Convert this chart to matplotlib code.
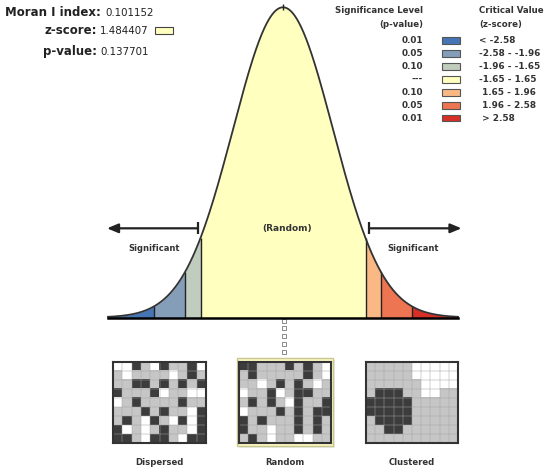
import numpy as np
import matplotlib.pyplot as plt
from matplotlib.patches import Rectangle
from matplotlib.colors import ListedColormap

# ===== report values =====
MORAN_I = 0.101152
Z_SCORE = 1.484407
P_VALUE = 0.137701

crit_z = [-2.58, -1.96, -1.65, 1.65, 1.96, 2.58]
p_levels = ['0.01', '0.05', '0.10', '---', '0.10', '0.05', '0.01']
z_ranges = ['< -2.58', '-2.58 - -1.96', '-1.96 - -1.65', '-1.65 - 1.65',
            ' 1.65 - 1.96', ' 1.96 - 2.58', ' > 2.58']
band_colors = ['#4575b5', '#849eba', '#c0ccbe', '#ffffbf', '#fab984', '#ed7551', '#d62f27']
Z_EXTENT = 3.5
map_labels = ['Dispersed', 'Random', 'Clustered']

# 0 = white, 1 = grey, 2 = dark
dispersed = [
    [0, 0, 2, 1, 0, 2, 1, 1, 2, 0],
    [1, 0, 1, 1, 1, 1, 0, 1, 2, 1],
    [1, 1, 2, 2, 1, 2, 1, 2, 1, 2],
    [2, 1, 1, 1, 2, 0, 1, 1, 0, 0],
    [0, 1, 2, 1, 1, 1, 1, 2, 1, 1],
    [1, 1, 1, 2, 1, 2, 1, 1, 0, 2],
    [1, 2, 1, 0, 2, 1, 0, 2, 0, 2],
    [2, 0, 1, 0, 1, 2, 1, 1, 0, 2],
    [2, 2, 1, 0, 2, 2, 1, 0, 2, 2],
]
random_map = [
    [2, 2, 1, 1, 1, 2, 1, 2, 1, 0],
    [1, 2, 1, 1, 1, 1, 1, 2, 1, 0],
    [1, 1, 0, 1, 2, 1, 2, 1, 0, 1],
    [0, 1, 1, 2, 0, 1, 2, 2, 1, 1],
    [1, 2, 1, 2, 1, 0, 2, 1, 1, 2],
    [0, 1, 1, 1, 2, 1, 2, 1, 2, 2],
    [2, 1, 2, 1, 1, 1, 2, 1, 2, 1],
    [2, 1, 1, 0, 1, 1, 2, 1, 2, 1],
    [1, 2, 1, 0, 1, 1, 0, 0, 1, 1],
]
clustered = [
    [1, 1, 1, 1, 1, 0, 0, 0, 0, 0],
    [1, 1, 1, 1, 1, 0, 0, 0, 0, 0],
    [1, 1, 1, 1, 1, 1, 0, 0, 0, 0],
    [1, 2, 2, 2, 1, 1, 0, 0, 1, 1],
    [2, 2, 2, 2, 2, 1, 1, 1, 1, 1],
    [2, 2, 2, 2, 2, 1, 1, 1, 1, 1],
    [1, 2, 2, 2, 2, 1, 1, 1, 1, 1],
    [1, 1, 2, 2, 1, 1, 1, 1, 1, 1],
    [1, 1, 1, 1, 1, 1, 1, 1, 1, 1],
]

W, H = 550, 473
fig = plt.figure(figsize=(5.5, 4.73), dpi=100)

def fx(x):
    return x / W

def fy(y):
    return 1 - y / H

# overlay in pixel coords for the legend / frames
ov = fig.add_axes([0, 0, 1, 1])
ov.set_xlim(0, W)
ov.set_ylim(H, 0)
ov.axis('off')

# ---- normal curve ----
z = np.linspace(-Z_EXTENT, Z_EXTENT, 1401)
pdf = np.exp(-z ** 2 / 2) / np.sqrt(2 * np.pi)
peak = pdf.max()

ax = fig.add_axes([fx(108), fy(317.5), 350 / W, 310.2 / H])
ax.set_xlim(-Z_EXTENT, Z_EXTENT)
ax.set_ylim(0, peak)
ax.axis('off')

edges = [-Z_EXTENT] + crit_z + [Z_EXTENT]
for i, col in enumerate(band_colors):
    m = (z >= edges[i]) & (z <= edges[i + 1])
    ax.fill_between(z[m], 0, pdf[m], color=col, lw=0)
for c in crit_z:
    ax.vlines(c, 0, np.exp(-c ** 2 / 2) / np.sqrt(2 * np.pi), color='#222222', lw=1)
ax.plot(z, pdf, color='#333333', lw=1.3, clip_on=False)
ax.plot([-Z_EXTENT, Z_EXTENT], [0, 0], color='black', lw=1.8, clip_on=False)
ax.plot([0], [peak], marker='|', ms=4, color='#222222', clip_on=False)

# significance arrows
ya = 0.1147
bar = 0.0077
ax.annotate('', xy=(-3.52, ya), xytext=(-1.70, ya),
            arrowprops=dict(arrowstyle='-|>,head_length=0.6,head_width=0.25',
                            color='#222222', lw=1.6,
                            mutation_scale=11, shrinkA=0, shrinkB=0),
            annotation_clip=False)
ax.annotate('', xy=(3.57, ya), xytext=(1.72, ya),
            arrowprops=dict(arrowstyle='-|>,head_length=0.6,head_width=0.25',
                            color='#222222', lw=1.6,
                            mutation_scale=11, shrinkA=0, shrinkB=0),
            annotation_clip=False)
ax.vlines([-1.70, 1.72], ya - bar, ya + bar, color='#222222', lw=1.6, clip_on=False)

fig.text(fx(287), fy(229), '(Random)', fontsize=6.5, fontweight='bold',
         color='#333333', ha='center', va='center')
fig.text(fx(154), fy(248), 'Significant', fontsize=6, fontweight='bold',
         color='#333333', ha='center', va='center')
fig.text(fx(413), fy(248), 'Significant', fontsize=6, fontweight='bold',
         color='#333333', ha='center', va='center')

# ---- stats block ----
fig.text(fx(5), fy(13), 'Moran I index:', fontsize=8.5, fontweight='bold',
         color='#222222', ha='left', va='center')
fig.text(fx(105), fy(13), f'{MORAN_I:.6f}', fontsize=7.4, color='#222222',
         ha='left', va='center')
fig.text(fx(97), fy(31), 'z-score:', fontsize=8.5, fontweight='bold',
         color='#222222', ha='right', va='center')
fig.text(fx(100), fy(31), f'{Z_SCORE:.6f}', fontsize=7.4, color='#222222',
         ha='left', va='center')
fig.text(fx(97), fy(52), 'p-value:', fontsize=8.5, fontweight='bold',
         color='#222222', ha='right', va='center')
fig.text(fx(100), fy(52), f'{P_VALUE:.6f}', fontsize=7.4, color='#222222',
         ha='left', va='center')
ov.add_patch(Rectangle((155, 27.5), 18, 6.5, facecolor=band_colors[3],
                       edgecolor='#444444', lw=0.8))

# ---- legend ----
fig.text(fx(423), fy(10.7), 'Significance Level', fontsize=6.2, fontweight='bold',
         color='#333333', ha='right', va='center')
fig.text(fx(423), fy(24.7), '(p-value)', fontsize=6.2, fontweight='bold',
         color='#333333', ha='right', va='center')
fig.text(fx(479), fy(10.7), 'Critical Value', fontsize=6.2, fontweight='bold',
         color='#333333', ha='left', va='center')
fig.text(fx(479), fy(24.7), '(z-score)', fontsize=6.2, fontweight='bold',
         color='#333333', ha='left', va='center')
for i, (p, zr, col) in enumerate(zip(p_levels, z_ranges, band_colors)):
    yy = 40.7 + 12.9 * i
    fig.text(fx(423), fy(yy), p, fontsize=6.4, fontweight='bold',
             color='#333333', ha='right', va='center')
    fig.text(fx(479), fy(yy), zr, fontsize=6.4, fontweight='bold',
             color='#333333', ha='left', va='center')
    ov.add_patch(Rectangle((442, yy - 3.4), 18, 6.8, facecolor=col,
                           edgecolor='#555555', lw=0.8))

# ---- connector and map thumbnails ----
ov.plot([284] * 5, [321, 328, 336, 344, 352], 's', ms=2.6, mfc='white',
        mec='#777777', mew=0.6)
ov.add_patch(Rectangle((238.5, 359.5), 96, 88, facecolor='#dddddd',
                       edgecolor='none', alpha=0.6))
ov.add_patch(Rectangle((236.5, 357.5), 96.5, 88.5, facecolor='#fbf8c4',
                       edgecolor='#c9c78f', lw=1))

cmap = ListedColormap(['white', '#c6c6c6', '#3c3c3c'])
map_boxes = [(113, 93), (239, 92), (366, 92)]
for grid, (x0, w), label in zip([dispersed, random_map, clustered], map_boxes, map_labels):
    g = np.array(grid)
    mx = fig.add_axes([fx(x0), fy(443), w / W, 81 / H])
    mx.imshow(g, cmap=cmap, vmin=0, vmax=2, aspect='auto', interpolation='nearest')
    nr, nc = g.shape
    for r in range(1, nr):
        mx.axhline(r - 0.5, color='#a3a3a3', lw=0.35)
    for c in range(1, nc):
        mx.axvline(c - 0.5, color='#a3a3a3', lw=0.35)
    mx.set_xticks([])
    mx.set_yticks([])
    for s in mx.spines.values():
        s.set_color('#333333')
        s.set_linewidth(1.5)
    fig.text(fx(x0 + w / 2), fy(462), label, fontsize=6.1, fontweight='bold',
             color='#333333', ha='center', va='center')

fig.savefig('out.png', dpi=100)
